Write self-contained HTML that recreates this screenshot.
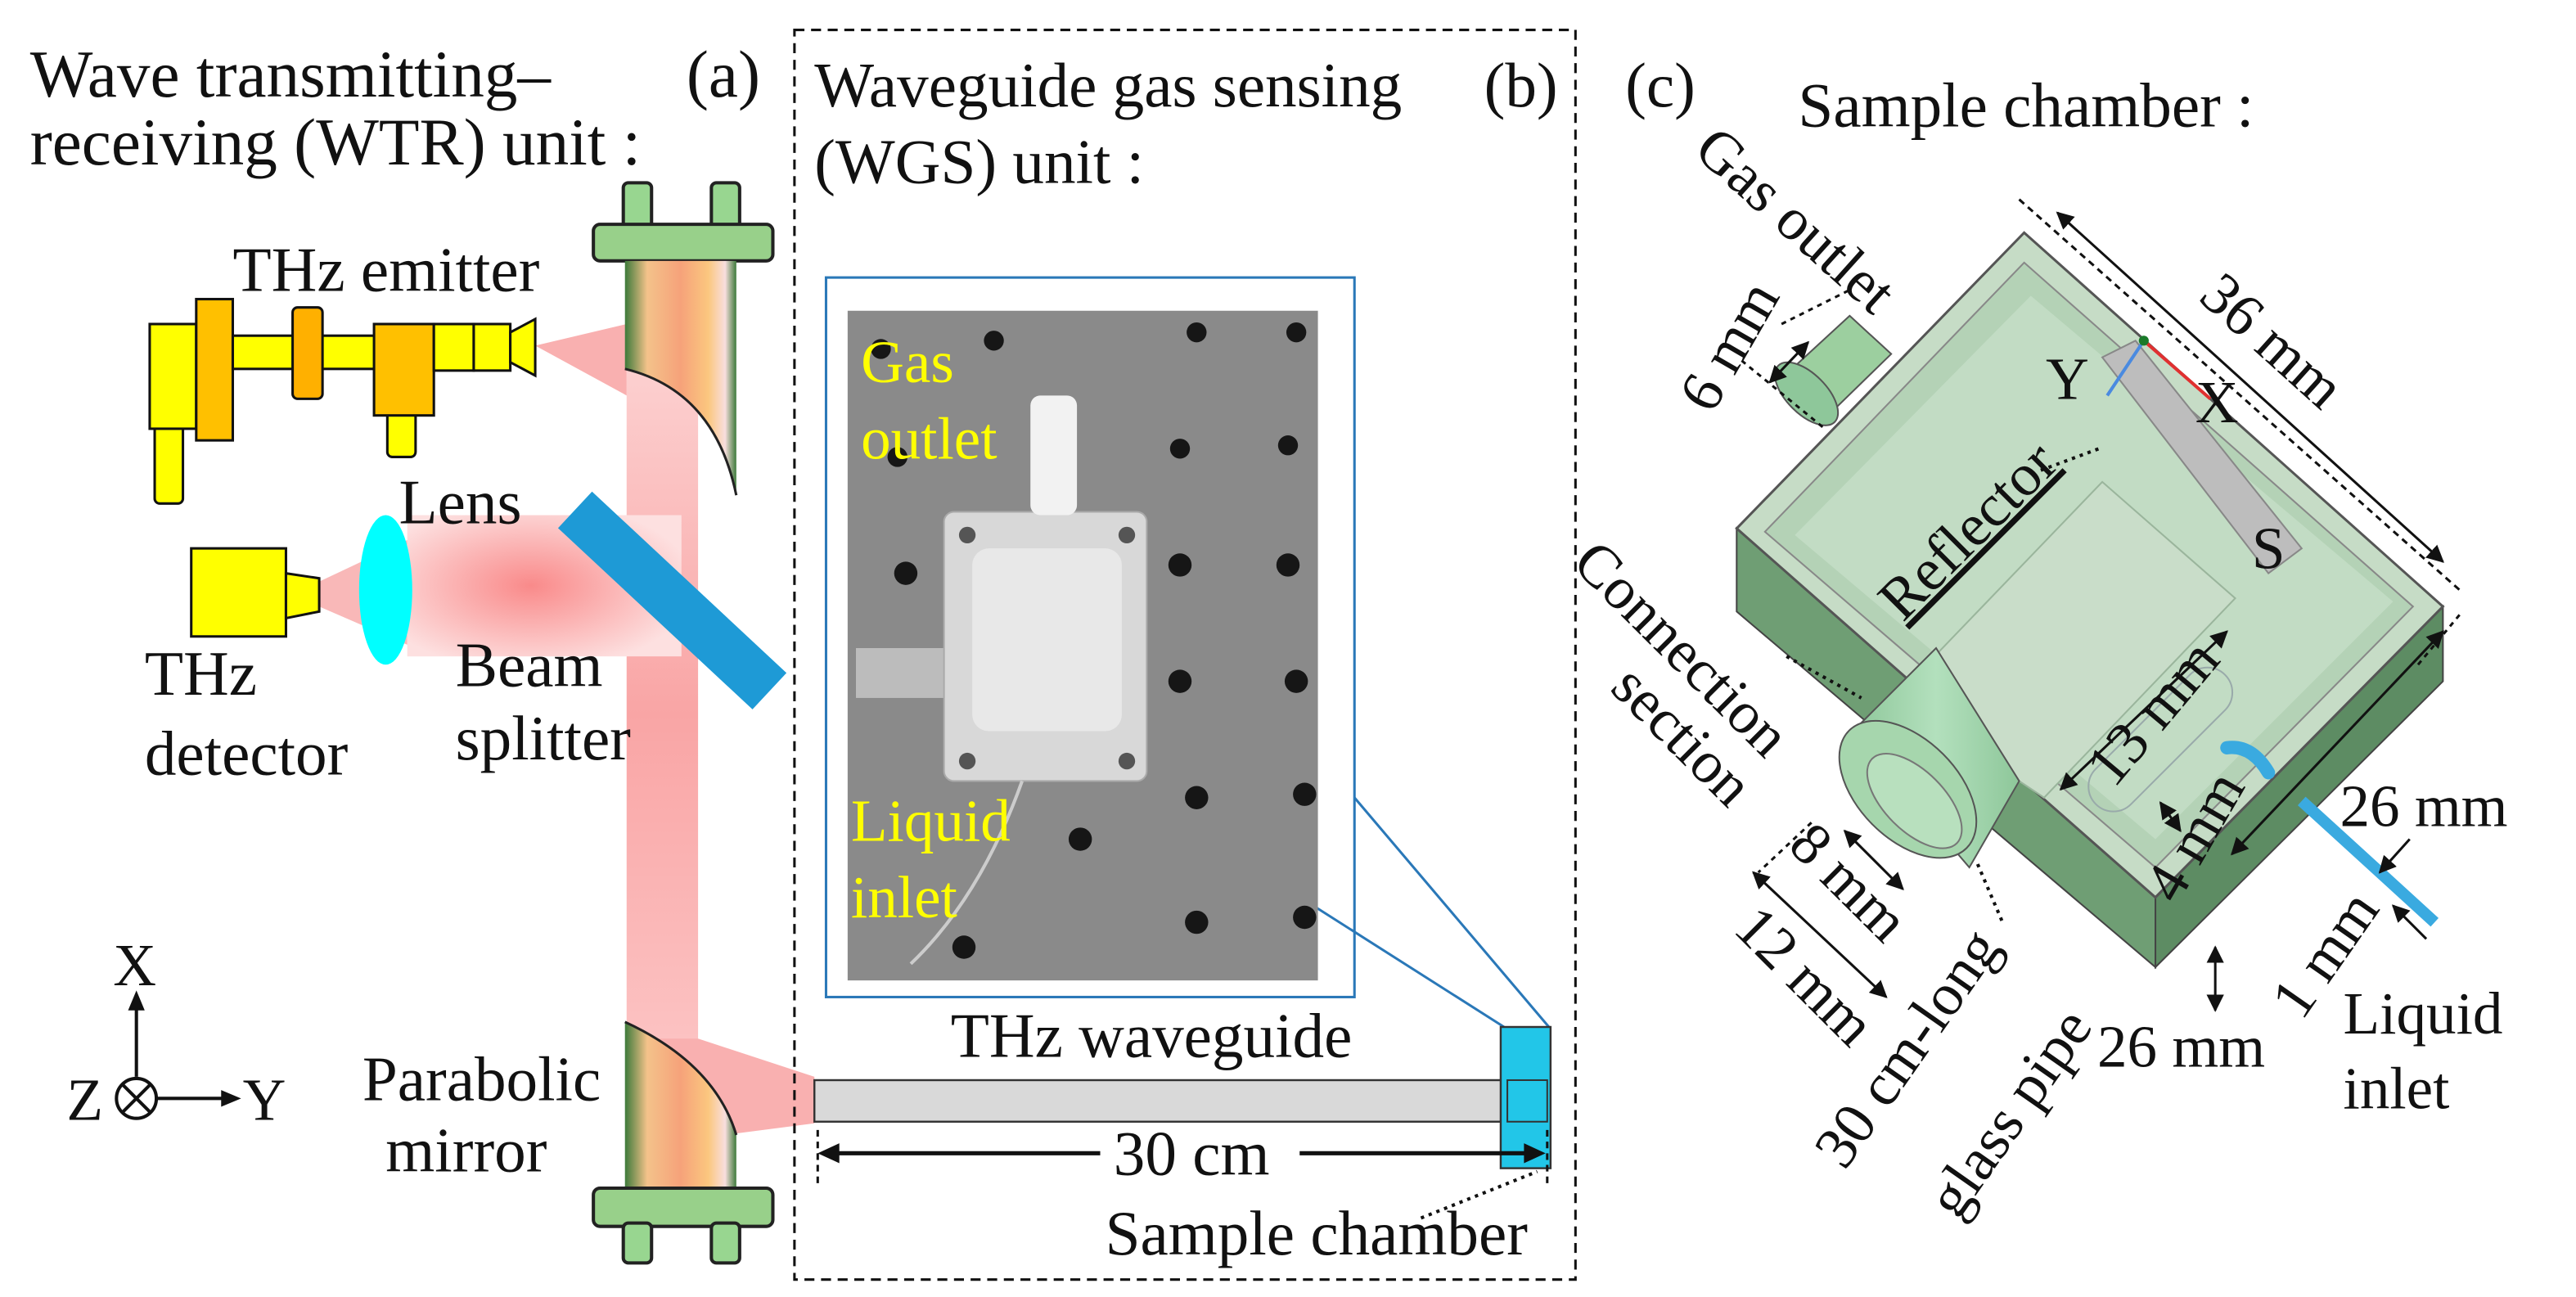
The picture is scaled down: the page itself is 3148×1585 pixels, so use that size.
<!DOCTYPE html>
<html><head><meta charset="utf-8"><style>
html,body{margin:0;padding:0;background:#fff;}
svg{display:block;}
svg text{font-family:"Liberation Serif","DejaVu Serif",serif;fill:#111;}
</style></head><body>
<svg width="3148" height="1585" viewBox="0 0 1550 780.5" xmlns="http://www.w3.org/2000/svg" font-family="Liberation Serif, DejaVu Serif, serif">
<defs>
<linearGradient id="mg" x1="0" x2="1" y1="0" y2="0">
<stop offset="0" stop-color="#3d7a3a"/><stop offset="0.2" stop-color="#f4c28a"/><stop offset="0.5" stop-color="#f6a27a"/><stop offset="0.75" stop-color="#fbc77f"/><stop offset="0.9" stop-color="#f8dede"/><stop offset="1" stop-color="#3d7a3a"/>
</linearGradient>
<linearGradient id="bv" x1="0" x2="0" y1="0" y2="1">
<stop offset="0" stop-color="#fcd0d0"/><stop offset="0.5" stop-color="#f9a5a5"/><stop offset="1" stop-color="#fcc4c4"/>
</linearGradient>
<radialGradient id="rb" cx="0.45" cy="0.5" r="0.6">
<stop offset="0" stop-color="#f98a8a"/><stop offset="1" stop-color="#fde0e0"/>
</radialGradient>
<linearGradient id="gc" x1="0" x2="1"><stop offset="0" stop-color="#8ec79a"/><stop offset="0.5" stop-color="#b3e0bd"/><stop offset="1" stop-color="#8ec79a"/></linearGradient>
<marker id="ah" viewBox="0 0 10 10" refX="9" refY="5" markerWidth="7" markerHeight="7" orient="auto-start-reverse"><path d="M0,0 L10,5 L0,10 Z" fill="#111"/></marker>
</defs>

<text x="18" y="58" font-size="40">Wave transmitting–</text>
<text x="18" y="99" font-size="40">receiving (WTR) unit :</text>
<text x="413" y="58" font-size="40">(a)</text>

<rect x="377" y="220" width="43" height="420" fill="url(#bv)"/>
<polygon points="322,208 377,195 377,238" fill="#f9b0b0"/>
<polygon points="377,625 420,625 490,648 490,676 420,685 400,685" fill="#f9b0b0"/>

<rect x="375" y="110" width="17" height="30" rx="3" fill="#98d690" stroke="#222" stroke-width="2"/>
<rect x="428" y="110" width="17" height="30" rx="3" fill="#98d690" stroke="#222" stroke-width="2"/>
<rect x="357" y="135" width="108" height="22" rx="4" fill="#98d08a" stroke="#222" stroke-width="2"/>
<path d="M376,157 L376,222 Q430,235 443,298 L443,157 Z" fill="url(#mg)"/>
<path d="M376,222 Q430,235 443,298" fill="none" stroke="#222" stroke-width="1.5"/>

<path d="M376,715 L376,615 Q430,640 443,683 L443,715 Z" fill="url(#mg)"/>
<path d="M376,615 Q430,640 443,683" fill="none" stroke="#222" stroke-width="1.5"/>
<rect x="357" y="715" width="108" height="23" rx="4" fill="#98d08a" stroke="#222" stroke-width="2"/>
<rect x="375" y="736" width="17" height="24" rx="3" fill="#98d690" stroke="#222" stroke-width="2"/>
<rect x="428" y="736" width="17" height="24" rx="3" fill="#98d690" stroke="#222" stroke-width="2"/>

<g stroke="#111" stroke-width="1.5">
<rect x="93" y="255" width="17" height="48" rx="3" fill="#ffff00"/>
<rect x="233" y="248" width="17" height="27" rx="3" fill="#ffff00"/>
<rect x="90" y="195" width="28" height="63" fill="#ffff00"/>
<rect x="118" y="180" width="22" height="85" fill="#ffc000"/>
<rect x="140" y="202" width="90" height="20" fill="#ffff00"/>
<rect x="176" y="185" width="18" height="55" rx="3" fill="#ffb000"/>
<rect x="225" y="195" width="36" height="55" fill="#ffc000"/>
<rect x="261" y="195" width="24" height="28" fill="#ffff00"/>
<rect x="285" y="195" width="22" height="28" fill="#ffff00"/>
<polygon points="307,200 322,192 322,226 307,218" fill="#ffff00"/>
</g>
<text x="140" y="175" font-size="38">THz emitter</text>

<polygon points="192,350 245,325 245,388 192,365" fill="#f9b8b8"/>
<rect x="245" y="310" width="165" height="85" fill="url(#rb)"/>
<rect x="115" y="330" width="57" height="53" fill="#ffff00" stroke="#111" stroke-width="1.5"/>
<polygon points="172,345 192,348 192,368 172,372" fill="#ffff00" stroke="#111" stroke-width="1.5"/>
<ellipse cx="232" cy="355" rx="16" ry="45" fill="#00ffff"/>
<text x="240" y="315" font-size="38">Lens</text>
<rect x="325" y="345" width="160" height="30" fill="#1e9ad6" transform="rotate(43 403 360)"/>
<text x="87" y="418" font-size="38">THz</text>
<text x="87" y="466" font-size="38">detector</text>
<text x="274" y="413" font-size="38">Beam</text>
<text x="274" y="457" font-size="38">splitter</text>
<text x="218" y="662" font-size="38">Parabolic</text>
<text x="232" y="705" font-size="38">mirror</text>

<text x="68" y="593" font-size="36">X</text>
<line x1="82" y1="648" x2="82" y2="602" stroke="#111" stroke-width="2"/>
<polygon points="82,596 77,608 87,608" fill="#111"/>
<circle cx="82" cy="661" r="12" fill="none" stroke="#111" stroke-width="2"/>
<line x1="74" y1="653" x2="90" y2="669" stroke="#111" stroke-width="2"/>
<line x1="90" y1="653" x2="74" y2="669" stroke="#111" stroke-width="2"/>
<line x1="94" y1="661" x2="138" y2="661" stroke="#111" stroke-width="2"/>
<polygon points="145,661 133,656 133,666" fill="#111"/>
<text x="40" y="674" font-size="36">Z</text>
<text x="146" y="674" font-size="36">Y</text>

<rect x="478" y="18" width="470" height="752" fill="none" stroke="#111" stroke-width="1.5" stroke-dasharray="6,4"/>
<text x="490" y="64" font-size="38">Waveguide gas sensing</text>
<text x="490" y="110" font-size="38">(WGS) unit :</text>
<text x="893" y="64" font-size="38">(b)</text>
<rect x="497" y="167" width="318" height="433" fill="#fff" stroke="#2a78b8" stroke-width="1.5"/>
<line x1="743" y1="515" x2="905" y2="618" stroke="#2a78b8" stroke-width="1.5"/>
<line x1="815" y1="480" x2="932" y2="618" stroke="#2a78b8" stroke-width="1.5"/>
<rect x="510" y="187" width="283" height="403" fill="#8a8a8a"/>
<g fill="#161616">
<circle cx="530" cy="210" r="6"/><circle cx="598" cy="205" r="6"/><circle cx="720" cy="200" r="6"/><circle cx="780" cy="200" r="6"/>
<circle cx="540" cy="275" r="6"/><circle cx="710" cy="270" r="6"/><circle cx="775" cy="268" r="6"/>
<circle cx="545" cy="345" r="7"/><circle cx="710" cy="340" r="7"/><circle cx="775" cy="340" r="7"/>
<circle cx="710" cy="410" r="7"/><circle cx="780" cy="410" r="7"/>
<circle cx="720" cy="480" r="7"/><circle cx="785" cy="478" r="7"/>
<circle cx="650" cy="505" r="7"/><circle cx="720" cy="555" r="7"/><circle cx="785" cy="552" r="7"/>
<circle cx="580" cy="570" r="7"/>
</g>
<rect x="515" y="390" width="55" height="30" fill="#c8c8c8" opacity="0.8"/>
<rect x="568" y="308" width="122" height="162" rx="6" fill="#d8d8d8" stroke="#aaa"/>
<rect x="585" y="330" width="90" height="110" rx="10" fill="#e8e8e8"/>
<circle cx="582" cy="322" r="5" fill="#555"/><circle cx="678" cy="322" r="5" fill="#555"/>
<circle cx="582" cy="458" r="5" fill="#555"/><circle cx="678" cy="458" r="5" fill="#555"/>
<rect x="620" y="238" width="28" height="72" rx="6" fill="#f2f2f2"/>
<path d="M615,470 Q590,540 548,580" fill="none" stroke="#ccc" stroke-width="2"/>
<g font-size="36">
<text x="518" y="230" style="fill:#ffff00">Gas</text>
<text x="518" y="276" style="fill:#ffff00">outlet</text>
<text x="512" y="506" style="fill:#ffff00">Liquid</text>
<text x="512" y="552" style="fill:#ffff00">inlet</text>
</g>
<rect x="490" y="650" width="415" height="25" fill="#d9d9d9" stroke="#333" stroke-width="1.2"/>
<rect x="903" y="618" width="30" height="85" fill="#22c6e8" stroke="#333" stroke-width="1.2"/>
<rect x="907" y="650" width="24" height="25" fill="none" stroke="#333" stroke-width="1"/>
<text x="572" y="636" font-size="38">THz waveguide</text>
<line x1="492" y1="680" x2="492" y2="712" stroke="#111" stroke-width="1.5" stroke-dasharray="4,3"/>
<line x1="931" y1="680" x2="931" y2="712" stroke="#111" stroke-width="1.5" stroke-dasharray="4,3"/>
<line x1="500" y1="694" x2="662" y2="694" stroke="#111" stroke-width="2.5"/>
<line x1="782" y1="694" x2="922" y2="694" stroke="#111" stroke-width="2.5"/>
<polygon points="492,694 505,688 505,700" fill="#111"/>
<polygon points="930,694 917,688 917,700" fill="#111"/>
<text x="670" y="707" font-size="38">30 cm</text>
<line x1="855" y1="733" x2="925" y2="705" stroke="#111" stroke-width="2" stroke-dasharray="2,3"/>
<text x="665" y="755" font-size="38">Sample chamber</text>

<text x="978" y="64" font-size="38">(c)</text>
<text x="1082" y="76" font-size="38">Sample chamber :</text>
<polygon points="1045,318 1297,540 1297,582 1045,368" fill="#6f9e74" stroke="#444" stroke-width="1"/>
<polygon points="1297,540 1470,365 1470,410 1297,582" fill="#5d8c63" stroke="#444" stroke-width="1"/>
<polygon points="1045,318 1218,140 1470,365 1297,540" fill="#c6dcc6" stroke="#555" stroke-width="1.5"/>
<polygon points="1062,320 1218,158 1452,365 1297,522" fill="#b4d2b6" stroke="#888" stroke-width="1"/>
<polygon points="1080,322 1222,178 1440,362 1297,505" fill="#c2dcc4"/>
<polygon points="1140,420 1265,290 1345,360 1230,480" fill="#c9ddc9" stroke="#9ab59c" stroke-width="1"/>
<rect x="1285" y="390" width="30" height="110" rx="15" fill="none" stroke="#9aa" transform="rotate(45 1300 445)"/>
<polygon points="1265,215 1285,205 1385,330 1365,345" fill="#bdbdbd" stroke="#888"/>
<polygon points="1075,225 1113,190 1138,213 1100,250" fill="#9ccf9f" stroke="#555" stroke-width="1"/>
<ellipse cx="1087" cy="237" rx="12" ry="24" transform="rotate(-45 1087 237)" fill="#8ec79a" stroke="#555"/>
<polygon points="1115,440 1165,390 1215,470 1185,522" fill="url(#gc)" stroke="#555" stroke-width="1"/>
<ellipse cx="1148" cy="475" rx="30" ry="50" transform="rotate(-45 1148 475)" fill="#a6d6ad" stroke="#555"/>
<ellipse cx="1152" cy="482" rx="18" ry="36" transform="rotate(-45 1152 482)" fill="#b8e0be" stroke="#777"/>
<path d="M1340,450 Q1355,448 1365,465" fill="none" stroke="#3aaae0" stroke-width="8" stroke-linecap="round"/>
<line x1="1385" y1="482" x2="1465" y2="555" stroke="#3aaae0" stroke-width="7"/>
<line x1="1290" y1="205" x2="1330" y2="240" stroke="#e03030" stroke-width="2"/>
<line x1="1290" y1="205" x2="1268" y2="238" stroke="#4a8ae0" stroke-width="2"/>
<circle cx="1290" cy="205" r="3" fill="#1a7a2a"/>
<text x="1231" y="240" font-size="36">Y</text>
<text x="1321" y="254" font-size="36">X</text>
<text x="1355" y="342" font-size="36">S</text>

<g stroke="#111" stroke-width="1.5" fill="none">
<line x1="1215" y1="120" x2="1480" y2="355" stroke-dasharray="4,3"/>
<line x1="1238" y1="128" x2="1470" y2="338" marker-start="url(#ah)" marker-end="url(#ah)"/>
<line x1="1048" y1="217" x2="1098" y2="258" stroke-dasharray="3,3"/>
<line x1="1072" y1="195" x2="1112" y2="175" stroke-dasharray="3,3"/>
<line x1="1065" y1="230" x2="1088" y2="206" marker-start="url(#ah)" marker-end="url(#ah)"/>
<line x1="1470" y1="380" x2="1343" y2="514" marker-start="url(#ah)" marker-end="url(#ah)"/>
<line x1="1480" y1="370" x2="1455" y2="400" stroke-dasharray="3,3"/>
<line x1="1110" y1="500" x2="1145" y2="535" marker-start="url(#ah)" marker-end="url(#ah)"/>
<line x1="1090" y1="495" x2="1058" y2="525" stroke-dasharray="3,3"/>
<line x1="1055" y1="525" x2="1135" y2="600" marker-start="url(#ah)" marker-end="url(#ah)"/>
<line x1="1240" y1="475" x2="1340" y2="380" marker-start="url(#ah)" marker-end="url(#ah)"/>
<line x1="1333" y1="570" x2="1333" y2="608" marker-start="url(#ah)" marker-end="url(#ah)"/>
<line x1="1450" y1="505" x2="1432" y2="525" marker-end="url(#ah)"/>
<line x1="1460" y1="565" x2="1440" y2="545" marker-end="url(#ah)"/>
<line x1="1300" y1="483" x2="1312" y2="500" marker-start="url(#ah)" marker-end="url(#ah)"/>
<line x1="1075" y1="395" x2="1120" y2="420" stroke-dasharray="2,3" stroke-width="2"/>
<line x1="1190" y1="520" x2="1205" y2="555" stroke-dasharray="2,3" stroke-width="2"/>
<line x1="1228" y1="283" x2="1263" y2="270" stroke-dasharray="2,3" stroke-width="2"/>
</g>
<g font-size="36">
<text transform="translate(1018,92) rotate(42)">Gas outlet</text>
<text transform="translate(1030,250) rotate(-60)">6 mm</text>
<text transform="translate(1322,180) rotate(42)">36 mm</text>
<text transform="translate(1145,375) rotate(-45)" style="text-decoration:underline">Reflector</text>
<text transform="translate(945,340) rotate(45)">Connection</text>
<text transform="translate(968,415) rotate(45)">section</text>
<text transform="translate(1075,510) rotate(45)">8 mm</text>
<text transform="translate(1042,560) rotate(45)">12 mm</text>
<text transform="translate(1110,705) rotate(-55)">30 cm-long</text>
<text transform="translate(1178,735) rotate(-55)">glass pipe</text>
<text transform="translate(1272,475) rotate(-50)">13 mm</text>
<text transform="translate(1310,545) rotate(-60)">4 mm</text>
<text transform="translate(1385,615) rotate(-55)">1 mm</text>
<text x="1408" y="497">26 mm</text>
<text x="1262" y="642">26 mm</text>
<text x="1410" y="622">Liquid</text>
<text x="1410" y="667">inlet</text>
</g>
</svg>
</body></html>
